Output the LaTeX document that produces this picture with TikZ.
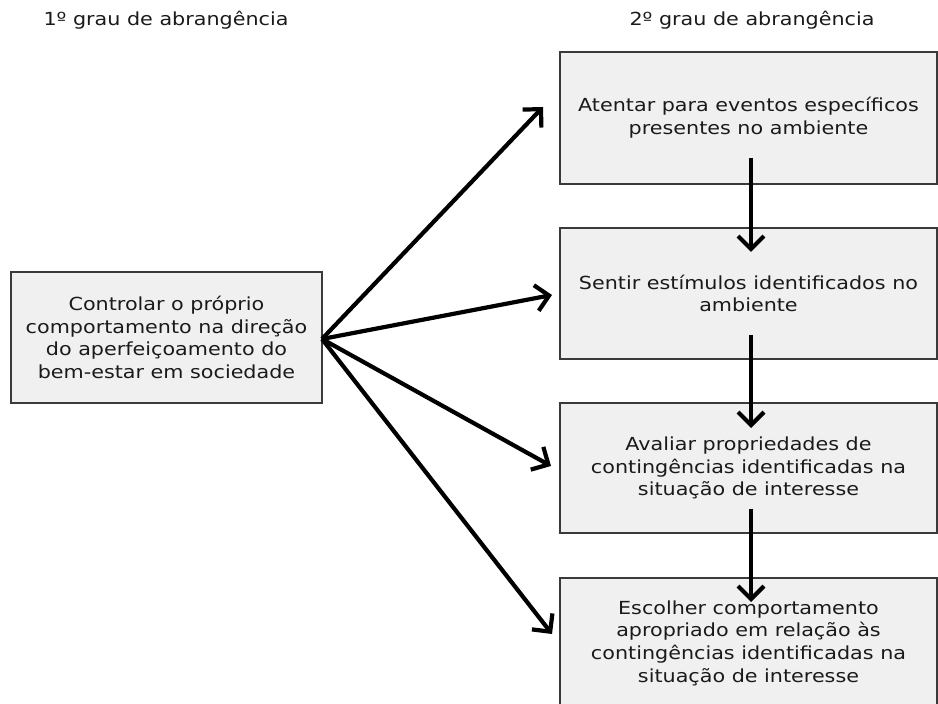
\documentclass[tikz,border=0pt]{standalone}
\usepackage{fontspec}
\setmainfont{DejaVu Sans}[FakeStretch=1.15]
\usetikzlibrary{arrows.meta}
\definecolor{boxfill}{HTML}{F0F0F0}
\definecolor{boxline}{HTML}{3A3A3A}
\definecolor{inktext}{HTML}{1A1A1A}
\begin{document}
\begin{tikzpicture}[x=1pt,y=1pt,
  every node/.style={inner sep=0pt, outer sep=0pt},
  stagebox/.style={draw=boxline, line width=1.5pt, fill=boxfill, align=center,
    text=inktext, font=\fontsize{18}{22.7}\selectfont},
  heading/.style={text=inktext, font=\fontsize{18}{22.7}\selectfont},
  flow/.style={line width=4.2pt, -{Straight Barb[length=13pt,width=26pt]}}]
\useasboundingbox (0,0) rectangle (938,704);
\clip (0,0) rectangle (938,704);

% column headings
\node[heading] (h1) at (166,684) {1º grau de abrangência};
\node[heading] (h2) at (752,684) {2º grau de abrangência};

% first degree
\node[stagebox, minimum width=311pt, minimum height=131pt] (L) at (166.5,366.5)
  {Controlar o próprio\\comportamento na direção\\do aperfeiçoamento do\\bem-estar em sociedade};

% second degree
\node[stagebox, minimum width=377pt, minimum height=132pt] (b1) at (748.5,586)
  {Atentar para eventos específicos\\presentes no ambiente};
\node[stagebox, minimum width=377pt, minimum height=131pt] (b2) at (748.5,410.5)
  {Sentir estímulos identificados no\\ambiente};
\node[stagebox, minimum width=377pt, minimum height=130pt] (b3) at (748.5,236)
  {Avaliar propriedades de\\contingências identificadas na\\situação de interesse};
\node[stagebox, minimum width=377pt, minimum height=130pt] (b4) at (748.5,61)
  {Escolher comportamento\\apropriado em relação às\\contingências identificadas na\\situação de interesse};

% arrow ends in front of each second-degree box
\coordinate (t1) at (543,597);
\coordinate (t2) at (552,409);
\coordinate (t3) at (551,238);
\coordinate (t4) at (552,70);
\coordinate (o) at (322,365);

\draw[flow] (o) -- (t1);
\draw[flow] (o) -- (t2);
\draw[flow] (o) -- (t3);
\draw[flow] (o) -- (t4);

% chain between the second-degree boxes
\draw[flow] ([xshift=2.5pt,yshift=26pt]b1.south) -- ([xshift=2.5pt,yshift=-24pt]b2.north);
\draw[flow] ([xshift=2.5pt,yshift=24pt]b2.south) -- ([xshift=2.5pt,yshift=-25pt]b3.north);
\draw[flow] ([xshift=2.5pt,yshift=24pt]b3.south) -- ([xshift=2.5pt,yshift=-24pt]b4.north);
\end{tikzpicture}
\end{document}
